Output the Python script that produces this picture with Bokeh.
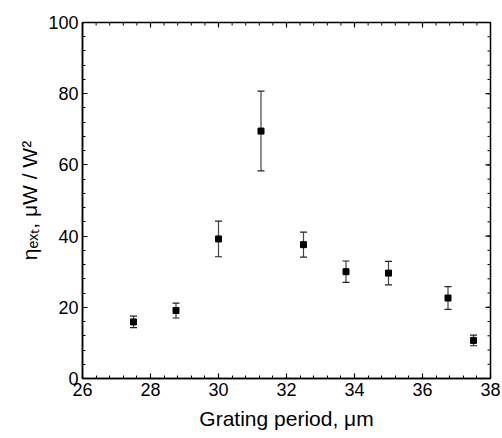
import math
import numpy as np
from bokeh.plotting import figure
from bokeh.models import ColumnDataSource, Whisker, TeeHead, SingleIntervalTicker, Range1d
from bokeh.embed import file_html
from bokeh.resources import INLINE

# ---- data ----
period = [27.5, 28.75, 30.0, 31.25, 32.5, 33.75, 35.0, 36.75, 37.5]
eta = [15.9, 19.1, 39.2, 69.5, 37.6, 30.0, 29.6, 22.6, 10.7]
err = [1.6, 2.1, 5.0, 11.2, 3.5, 3.0, 3.3, 3.2, 1.5]
x_title = "Grating period, \u03bcm"
y_title = "\u03b7\u2091\u2093\u209c, \u03bcW / W\u00b2"

X0, X1, XSTEP, XMINOR = 26, 38, 2, 5
Y0, Y1, YSTEP, YMINOR = 0, 100, 20, 5

lower = [v - e for v, e in zip(eta, err)]
upper = [v + e for v, e in zip(eta, err)]
src = ColumnDataSource(dict(x=period, y=eta, lower=lower, upper=upper))

W, H = 502, 438
ML, MR, MT, MB = 82, 12, 22, 60
FONT = "Liberation Sans"

p = figure(width=W, height=H, output_backend="svg", toolbar_location=None,
           x_range=Range1d(X0, X1), y_range=Range1d(Y0, Y1),
           min_border_left=ML, min_border_right=MR, min_border_top=MT,
           min_border_bottom=MB, x_axis_label=x_title, y_axis_label=y_title)
p.background_fill_color = "white"
p.border_fill_color = "white"
p.outline_line_color = "black"
p.outline_line_width = 1.5
p.xgrid.visible = False
p.ygrid.visible = False

for ax in (p.xaxis[0], p.yaxis[0]):
    ax.axis_line_color = "black"
    ax.axis_line_width = 1.5
    ax.major_tick_in = 5
    ax.major_tick_out = 0
    ax.minor_tick_in = 3
    ax.minor_tick_out = 0
    ax.major_tick_line_color = "black"
    ax.minor_tick_line_color = "black"
    ax.major_tick_line_width = 1.2
    ax.minor_tick_line_width = 1
    ax.major_label_text_font = FONT
    ax.major_label_text_font_size = "18px"
    ax.major_label_text_color = "black"
    ax.major_label_standoff = 4
    ax.axis_label_text_font = FONT
    ax.axis_label_text_font_size = "21px"
    ax.axis_label_text_font_style = "normal"
    ax.axis_label_text_color = "black"

p.xaxis.ticker = SingleIntervalTicker(interval=XSTEP, num_minor_ticks=XMINOR)
p.yaxis.ticker = SingleIntervalTicker(interval=YSTEP, num_minor_ticks=YMINOR)
p.xaxis.axis_label_standoff = 8
p.yaxis.axis_label_standoff = 4

# mirrored inward ticks on the top and right edges (half of each dash is clipped away)
x_major = np.arange(X0, X1 + 1e-9, XSTEP)
x_minor = np.arange(X0, X1 + 1e-9, XSTEP / XMINOR)
y_major = np.arange(Y0, Y1 + 1e-9, YSTEP)
y_minor = np.arange(Y0, Y1 + 1e-9, YSTEP / YMINOR)
p.scatter(x_minor, [Y1] * len(x_minor), marker="dash", angle=math.pi / 2, size=6,
          line_color="black", line_width=1)
p.scatter(x_major, [Y1] * len(x_major), marker="dash", angle=math.pi / 2, size=10,
          line_color="black", line_width=1.2)
p.scatter([X1] * len(y_minor), y_minor, marker="dash", size=6,
          line_color="black", line_width=1)
p.scatter([X1] * len(y_major), y_major, marker="dash", size=10,
          line_color="black", line_width=1.2)

# error bars and points
wh = Whisker(base="x", upper="upper", lower="lower", source=src,
             line_color="#444444", line_width=1.2,
             upper_head=TeeHead(size=7, line_color="#222222", line_width=1.2),
             lower_head=TeeHead(size=7, line_color="#222222", line_width=1.2))
p.add_layout(wh)
p.scatter("x", "y", source=src, marker="square", size=6, color="black")

open("out.html", "w").write(file_html(p, INLINE))
